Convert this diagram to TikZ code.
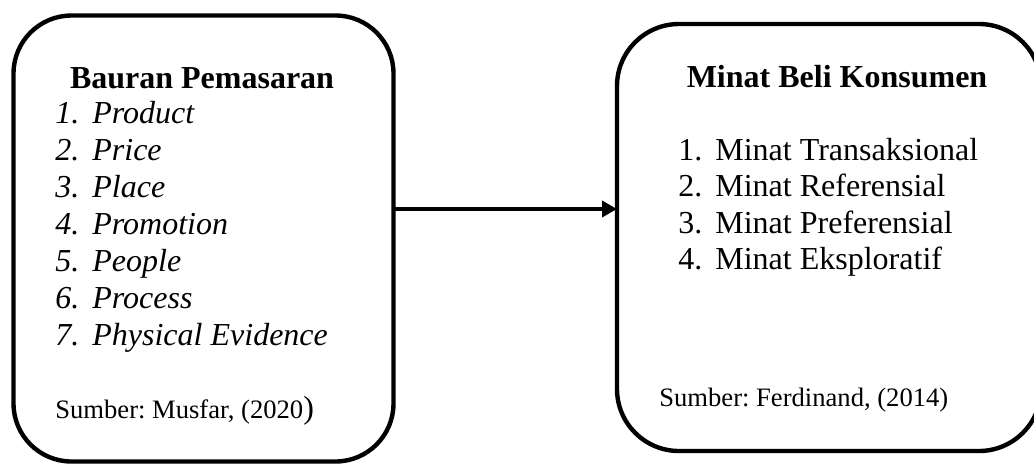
\documentclass[tikz,border=0pt]{standalone}
\usepackage{fontspec}
\setmainfont{Liberation Serif}
\usetikzlibrary{arrows.meta}
\frenchspacing
\begin{document}
\begin{tikzpicture}[x=0.5pt, y=-0.5pt, line join=round, >={Triangle[length=7.5pt,width=8pt]}, font=\fontsize{16}{19}\selectfont]
	\tikzset{box/.style={draw, line width=2.2pt, rounded corners=#1, inner sep=0pt, outer sep=0pt},
		item/.style={anchor=base west, inner sep=0pt},
		src/.style={anchor=base west, inner sep=0pt, font=\fontsize{13.3}{16}\selectfont}}
	\useasboundingbox (0,0) rectangle (1034,467);
	\node[box=29pt, minimum width=190pt, minimum height=223pt] (mix) at (203.5,238.5) {};
	\node[box=31pt, minimum width=212pt, minimum height=213.5pt] (minat) at (829,237.5) {};
	\node[anchor=base, inner sep=0pt, font=\fontsize{16}{19}\selectfont\bfseries] (mixtitle) at (202,88) {Bauran Pemasaran};
	\node[anchor=base, inner sep=0pt, font=\fontsize{16}{19}\selectfont\bfseries] (minattitle) at (837,87) {Minat Beli Konsumen};
	\foreach \t [count=\i] in {Product, Price, Place, Promotion, People, Process, Physical Evidence}
		\node[item] (p\i) at (55,{86+37*\i}) {\makebox[18.5pt][l]{\itshape\i.}\textit{\t}};
	\foreach \t [count=\i] in {Transaksional, Referensial, Preferensial, Eksploratif}
		\node[item] (m\i) at (678,{123.5+36.5*\i}) {\makebox[18.5pt][l]{\i.}Minat \t};
	\node[src] (mixsrc) at (55,418) {Sumber: Musfar, (2020{\fontsize{16}{19}\selectfont)}};
	\node[src] (minatsrc) at (659,406) {Sumber: Ferdinand, (2014)};
	\coordinate (a) at (500,209);
	\draw[->, line width=2.4pt] (mix.east |- a) -- (minat.west |- a);
\end{tikzpicture}
\end{document}
